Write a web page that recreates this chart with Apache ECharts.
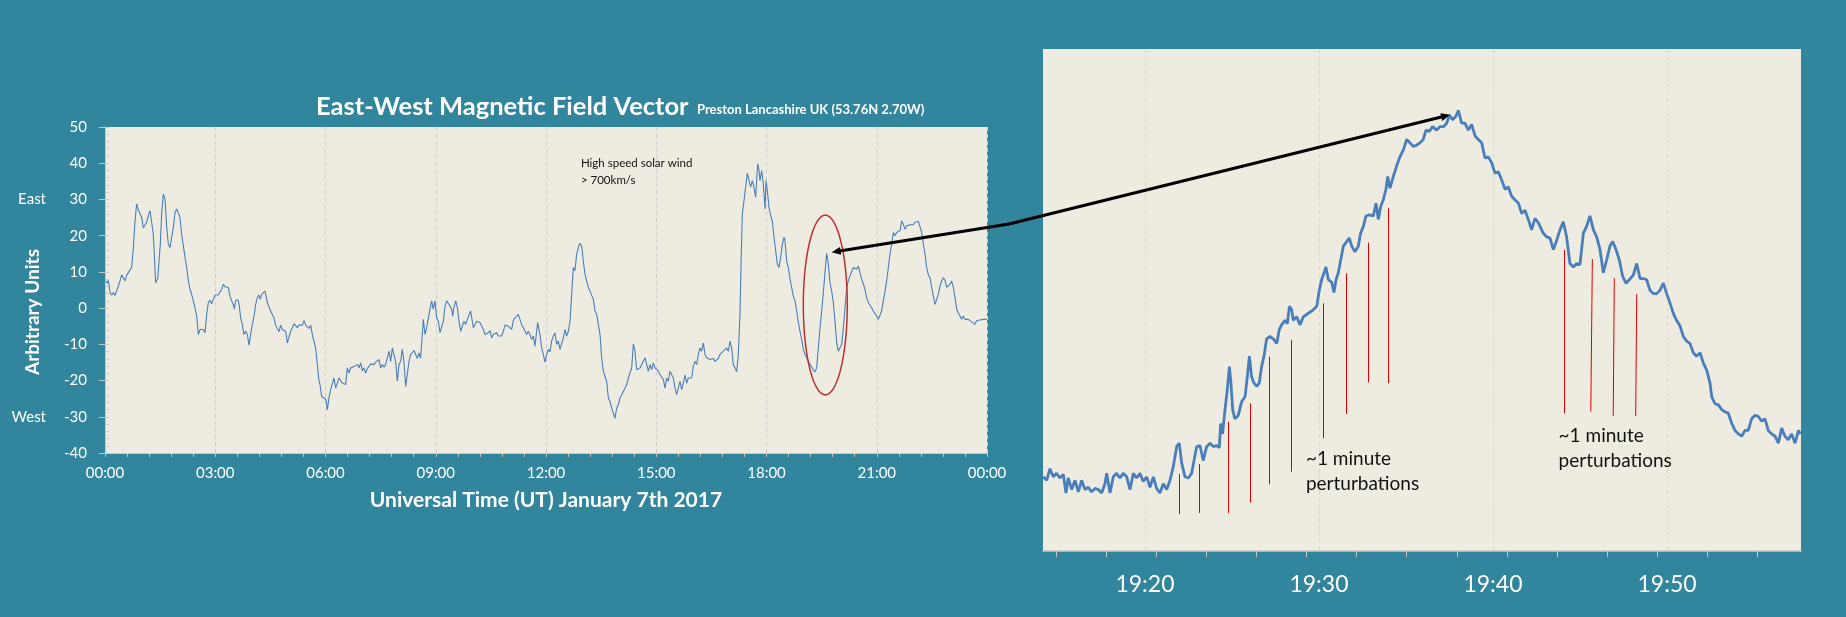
<!DOCTYPE html>
<html>
<head>
<meta charset="utf-8">
<script src="https://cdn.jsdelivr.net/npm/echarts@6/dist/echarts.min.js"></script>
<style>
html,body{margin:0;padding:0;background:#31859C;}
#chart{width:1846px;height:617px;}
</style>
</head>
<body>
<div id="chart"></div>
<script>
// ---------------- DATA ----------------
// Left chart: [minute of day (UT), East-West value (arbitrary units)]
const eastWest00to06 = [[1.1,7.5],[4.4,6.9],[5.4,7.7],[8.2,4.3],[10.9,3.6],[13.6,4.3],[16.3,3.5],[19.0,3.6],[21.8,6.1],[24.5,7.5],[27.2,9.2],[29.9,9.4],[32.7,7.5],[35.4,9.1],[38.1,9.4],[40.8,10.5],[43.5,11.2],[46.3,16.7],[49.0,24.1],[51.7,28.8],[54.4,27.1],[57.1,26.7],[59.9,25.1],[62.6,22.1],[65.3,22.5],[68.0,23.7],[70.7,25.5],[73.5,26.9],[76.2,27.4],[78.9,20.4],[80.5,14.9],[82.7,7.0],[86.0,8.0],[88.2,8.4],[90.3,17.7],[92.5,26.0],[95.2,31.5],[98.0,30.1],[100.7,22.3],[103.4,17.7],[106.1,16.7],[108.8,19.5],[111.6,22.3],[114.3,26.4],[117.0,27.4],[119.7,26.9],[122.4,25.1],[125.2,20.4],[127.9,17.2],[130.6,16.7],[133.3,11.2],[136.1,7.5],[138.8,5.2],[141.5,3.8],[144.2,2.0],[146.9,0.1],[149.7,-2.2],[152.4,-7.3],[155.1,-5.9],[157.8,-5.9],[160.5,-5.9],[163.3,-6.8],[166.0,-1.7],[168.7,1.5],[171.4,2.2],[174.1,1.2],[176.9,2.4],[179.6,3.6],[182.3,3.6],[185.0,3.6],[187.7,3.8],[190.5,5.2],[193.2,6.6],[195.9,5.9],[198.6,6.1],[201.4,5.7],[204.1,3.3],[206.8,2.0],[209.5,1.0],[211.1,-0.3],[213.3,2.0],[216.6,2.4],[218.8,1.2],[221.5,-2.7],[224.2,-4.5],[226.9,-7.3],[229.7,-6.4],[232.4,-7.3],[235.1,-10.2],[237.8,-7.3],[240.5,-4.5],[243.3,-2.2],[246.0,1.0],[248.7,2.9],[251.4,3.6],[253.6,2.4],[255.8,3.8],[258.5,3.3],[261.2,4.7],[263.4,4.9],[265.6,1.2],[267.7,1.0],[270.5,-0.8],[273.2,-1.0],[275.9,-2.7],[278.6,-4.7],[281.4,-4.5],[284.1,-6.5],[286.8,-4.7],[289.5,-5.9],[292.2,-5.6],[295.0,-6.4],[297.7,-9.6],[300.4,-9.1],[303.1,-6.4],[305.8,-5.4],[308.6,-4.3],[311.3,-4.5],[314.0,-5.4],[316.7,-4.7],[319.5,-4.3],[322.2,-4.7],[324.9,-3.4],[327.6,-4.7],[330.3,-4.5],[333.1,-5.6],[335.8,-4.7],[338.5,-7.3],[341.2,-9.1],[343.9,-11.0],[346.7,-15.6],[349.4,-20.2]];
const eastWest06to12 = [[351.0,-21.1],[353.7,-24.4],[357.5,-24.8],[360.8,-25.3],[363.0,-28.1],[365.7,-24.8],[368.4,-22.5],[371.1,-22.1],[373.9,-19.3],[376.6,-22.1],[379.3,-20.7],[382.0,-19.3],[384.7,-19.5],[387.5,-20.7],[390.2,-20.7],[392.9,-21.1],[395.6,-16.5],[398.3,-17.9],[401.1,-16.5],[403.8,-17.0],[406.5,-16.1],[409.2,-16.5],[412.0,-15.6],[414.7,-16.5],[417.4,-15.1],[420.1,-17.3],[422.8,-16.5],[425.6,-17.9],[428.3,-16.7],[431.0,-16.1],[433.7,-15.4],[436.4,-15.1],[439.2,-15.6],[441.9,-14.9],[444.6,-14.7],[447.3,-14.2],[450.0,-16.5],[452.8,-15.6],[455.5,-16.3],[458.2,-15.6],[460.9,-15.1],[463.7,-11.9],[466.4,-14.7],[469.1,-11.0],[471.8,-11.2],[474.5,-14.7],[477.3,-20.2],[480.0,-15.6],[482.7,-14.7],[485.4,-11.4],[488.1,-14.7],[490.9,-21.6],[493.6,-21.1],[496.3,-14.7],[499.0,-12.8],[501.7,-13.3],[504.5,-11.7],[507.2,-11.9],[509.9,-13.9],[512.6,-12.4],[515.3,-13.9],[518.1,-13.7],[519.7,-3.1],[522.4,-7.3],[525.1,-5.4],[527.9,-5.4],[530.6,-0.3],[533.3,2.0],[536.0,-0.3],[538.7,2.0],[541.5,-2.7],[544.2,-3.6],[546.9,-6.8],[549.6,-6.4],[552.4,-3.6],[555.1,0.6],[557.8,2.0],[560.5,2.0],[563.2,0.6],[566.0,-0.3],[567.6,-2.2],[569.8,0.3],[572.5,2.0],[575.2,0.3],[577.9,-3.6],[580.7,-6.4],[583.4,-6.2],[586.1,-3.6],[588.8,-4.5],[591.5,-3.1],[594.3,-3.6],[597.0,-0.8],[598.6,-0.3],[601.3,-5.4],[604.1,-4.5],[606.8,-3.6],[609.5,-3.6],[612.2,-4.0],[614.9,-4.5],[617.7,-5.9],[620.4,-7.3],[623.1,-7.3],[625.8,-6.8],[628.5,-6.2],[631.3,-8.2],[634.0,-7.3],[636.7,-7.3],[639.4,-6.8],[642.1,-7.7],[644.9,-7.3],[647.6,-7.7],[650.3,-6.4],[653.0,-4.7],[655.8,-4.5],[658.5,-5.0],[661.2,-4.5],[663.9,-5.9],[666.6,-3.4],[669.4,-2.7],[672.1,-2.2],[674.8,-1.7],[677.5,-3.1],[680.2,-4.5],[683.0,-5.4],[685.7,-5.9],[688.4,-7.3],[691.1,-6.4],[693.8,-7.3],[696.6,-8.7],[699.3,-7.7],[702.0,-10.5],[704.7,-6.4],[706.4,-4.0]];
const eastWest12to18 = [[710.2,-7.3],[712.9,-11.0],[715.6,-12.8],[718.4,-14.9],[721.1,-12.8],[723.8,-11.4],[726.5,-12.1],[729.2,-9.1],[732.0,-7.7],[734.7,-6.8],[737.4,-10.0],[740.1,-9.1],[742.9,-11.4],[745.6,-11.0],[748.3,-8.2],[751.0,-5.9],[753.7,-7.7],[756.5,-6.4],[759.2,-3.6],[761.9,3.8],[764.6,11.2],[767.3,10.3],[770.1,14.9],[772.8,16.7],[775.5,17.9],[778.2,17.2],[780.9,13.0],[783.7,9.4],[786.4,7.5],[789.1,5.7],[791.8,4.7],[794.6,4.3],[797.3,2.4],[800.0,-0.8],[802.7,-1.7],[805.4,-2.2],[808.2,-7.3],[810.9,-13.7],[813.6,-17.4],[816.3,-18.8],[819.0,-20.2],[821.8,-24.8],[824.5,-25.8],[827.2,-27.6],[829.9,-28.1],[832.6,-30.4],[835.4,-27.6],[838.1,-26.7],[840.8,-24.8],[843.5,-24.8],[846.3,-23.0],[849.0,-22.1],[851.7,-21.1],[854.4,-19.3],[857.1,-17.9],[859.9,-16.5],[862.6,-9.9],[865.3,-11.9],[868.0,-17.0],[870.7,-17.0],[873.5,-16.5],[876.2,-17.0],[878.9,-14.7],[881.6,-13.7],[884.3,-13.6],[887.1,-17.4],[889.8,-15.6],[892.5,-17.0],[895.2,-15.1],[898.0,-16.5],[900.7,-16.5],[903.4,-17.4],[906.1,-18.4],[908.8,-18.8],[911.6,-19.7],[914.3,-22.1],[917.0,-19.3],[919.7,-20.2],[922.4,-17.4],[925.2,-17.4],[927.9,-19.3],[930.6,-22.1],[933.3,-23.9],[936.0,-23.5],[938.8,-20.2],[941.5,-22.5],[944.2,-20.7],[946.9,-18.4],[949.7,-20.7],[952.4,-19.3],[955.1,-19.7],[957.8,-19.3],[960.5,-16.1],[963.3,-14.7],[966.0,-15.6],[968.7,-12.8],[971.4,-11.0],[974.1,-11.9],[976.9,-9.6],[979.6,-12.8],[982.3,-13.7],[985.0,-13.9],[987.7,-14.2],[990.5,-14.2],[993.2,-13.9],[995.9,-14.7],[998.6,-15.1],[1001.3,-13.9],[1004.1,-12.8],[1006.8,-13.3],[1009.5,-11.9],[1012.2,-12.4],[1015.0,-11.0],[1017.7,-11.9],[1020.4,-9.1],[1023.1,-11.0],[1025.8,-15.6],[1028.6,-16.5],[1031.3,-17.6],[1034.0,-12.8],[1036.7,-1.7],[1038.3,11.2],[1040.5,26.0],[1043.3,29.7],[1046.0,33.4],[1048.7,37.3],[1051.4,37.3],[1054.1,33.4],[1056.9,35.2],[1059.6,33.4],[1062.3,30.6],[1063.9,35.2],[1065.6,39.8],[1067.8,38.0]];
const eastWest18to24 = [[1069.4,35.2],[1072.1,38.0],[1074.8,34.3],[1077.6,27.4],[1079.2,35.2],[1081.4,32.4],[1084.1,27.8],[1086.8,25.5],[1089.5,24.1],[1092.3,19.5],[1095.0,15.8],[1097.7,12.1],[1100.4,11.2],[1103.1,14.0],[1105.9,17.7],[1108.6,19.5],[1110.2,18.6],[1112.9,13.0],[1115.7,11.2],[1118.4,8.0],[1121.1,7.5],[1123.8,3.3],[1126.5,2.0],[1129.3,-0.8],[1132.0,-4.0],[1134.7,-6.4],[1137.4,-8.7],[1140.1,-11.4],[1142.9,-12.8],[1145.6,-13.7],[1148.3,-14.7],[1151.0,-15.6],[1153.8,-16.1],[1156.5,-17.0],[1159.2,-17.6],[1161.9,-16.5],[1164.6,-11.0],[1167.4,-5.4],[1170.1,-0.8],[1172.8,4.3],[1175.5,9.8],[1178.2,15.1],[1181.0,12.1],[1183.7,7.0],[1186.4,4.7],[1189.1,1.5],[1191.8,-3.6],[1194.6,-9.6],[1197.3,-11.9],[1200.0,-12.4],[1202.7,-10.0],[1205.5,-5.4],[1208.2,0.1],[1210.9,5.7],[1213.6,7.5],[1216.3,8.9],[1219.1,9.4],[1221.8,11.2],[1224.5,11.2],[1227.2,10.7],[1229.9,11.6],[1232.7,11.2],[1235.4,8.0],[1238.1,6.6],[1240.8,5.2],[1243.5,2.9],[1246.3,1.5],[1249.0,1.5],[1251.7,0.1],[1254.4,-0.8],[1257.1,-1.3],[1259.9,-2.2],[1262.6,-3.1],[1265.3,-2.7],[1268.0,-0.8],[1270.8,2.0],[1273.5,4.7],[1276.2,7.5],[1278.9,11.2],[1281.6,14.9],[1284.4,17.7],[1287.1,20.9],[1289.8,20.0],[1292.5,20.9],[1295.2,20.4],[1298.0,21.4],[1300.7,24.1],[1303.4,23.2],[1306.1,21.8],[1308.8,22.7],[1311.6,22.7],[1314.3,23.0],[1317.0,23.2],[1319.7,23.0],[1322.5,23.7],[1325.2,23.2],[1327.9,23.9],[1330.6,22.5],[1333.3,20.9],[1336.1,17.7],[1338.8,14.9],[1341.5,11.2],[1344.2,9.2],[1346.9,8.4],[1349.7,5.7],[1352.4,3.3],[1355.1,1.0],[1357.8,2.4],[1360.5,3.8],[1363.3,6.1],[1366.0,7.5],[1368.7,8.4],[1371.4,7.7],[1374.2,5.7],[1376.9,6.1],[1379.6,6.6],[1382.3,7.5],[1385.0,5.7],[1387.8,2.9],[1390.5,-0.3],[1393.2,-1.3],[1395.9,-1.7],[1398.6,-3.1],[1401.4,-2.2],[1404.1,-3.1],[1406.8,-3.3],[1409.5,-3.1],[1412.2,-3.6],[1415.0,-3.8],[1417.7,-4.0],[1420.4,-4.5],[1423.1,-3.4],[1425.9,-3.8],[1428.6,-3.3],[1431.3,-3.6],[1434.0,-3.1],[1436.7,-3.3],[1439.5,-3.1]];

// Right (zoomed) chart: [minutes after 19:00 UT, value]
const zoomRise = [[14.16,-16.6],[14.35,-16.9],[14.54,-15.9],[14.73,-16.6],[14.92,-16.3],[15.11,-16.7],[15.31,-16.4],[15.46,-18.0],[15.59,-16.7],[15.79,-17.7],[15.98,-16.9],[16.17,-17.9],[16.36,-16.9],[16.55,-17.7],[16.74,-17.5],[16.93,-17.9],[17.13,-17.6],[17.32,-17.7],[17.51,-18.0],[17.70,-17.2],[17.80,-16.3],[17.99,-18.0],[18.18,-16.6],[18.37,-16.3],[18.56,-16.7],[18.75,-16.3],[18.95,-16.6],[19.14,-17.7],[19.33,-16.3],[19.52,-16.7],[19.71,-16.3],[19.90,-17.0],[20.10,-16.6],[20.29,-17.5],[20.48,-16.6],[20.67,-17.6],[20.86,-18.0],[21.05,-17.2],[21.25,-17.7],[21.44,-16.9],[21.63,-15.7],[21.82,-14.0],[21.97,-13.7],[22.11,-15.4],[22.30,-16.6],[22.49,-16.7],[22.68,-16.3],[22.82,-15.2],[22.97,-14.0],[23.16,-13.9],[23.35,-15.2],[23.54,-14.0],[23.74,-13.7],[23.93,-14.0],[24.12,-13.9],[24.27,-14.1],[24.35,-12.0],[24.46,-12.9],[24.60,-10.8],[24.73,-9.1],[24.85,-7.1],[24.94,-8.5],[25.04,-10.8],[25.17,-11.6],[25.36,-11.3],[25.56,-10.1],[25.75,-9.7],[25.88,-8.0],[26.00,-6.2],[26.13,-8.0],[26.26,-8.5],[26.42,-8.8],[26.57,-8.5],[26.70,-7.1],[26.84,-6.2],[26.99,-4.7],[27.18,-4.5],[27.38,-4.7],[27.57,-5.1],[27.72,-3.9],[27.85,-3.5],[28.05,-3.1],[28.18,-3.4],[28.30,-1.9],[28.43,-2.2]];
const zoomPeak = [[28.52,-3.1],[28.72,-2.8],[28.91,-3.5],[29.10,-2.8],[29.29,-2.6],[29.48,-2.4],[29.67,-2.2],[29.87,-1.9],[30.02,-0.5],[30.15,0.4],[30.29,1.0],[30.40,1.5],[30.54,0.4],[30.73,0.2],[30.86,-0.7],[30.98,0.4],[31.11,1.0],[31.25,2.1],[31.40,3.3],[31.55,3.6],[31.74,4.0],[31.88,3.3],[32.07,2.8],[32.26,3.3],[32.39,4.4],[32.55,5.0],[32.70,5.9],[32.89,6.0],[33.12,5.9],[33.28,7.0],[33.41,5.6],[33.54,6.7],[33.70,7.3],[33.85,8.2],[33.95,9.3],[34.08,8.3],[34.27,9.3],[34.46,10.2],[34.65,11.0],[34.85,11.6],[35.04,12.5],[35.23,12.2],[35.42,11.9],[35.61,12.0],[35.80,12.2],[35.99,12.5],[36.15,13.3],[36.34,13.2],[36.53,13.6],[36.76,13.3],[36.95,13.6],[37.15,13.6],[37.34,13.9],[37.49,14.6],[37.68,14.2],[37.87,14.5],[38.01,15.0],[38.20,13.9],[38.39,13.9],[38.58,13.3],[38.77,13.8],[38.97,12.8],[39.16,12.5],[39.35,12.2],[39.54,10.9],[39.73,11.0],[39.92,10.5],[40.11,9.6],[40.31,9.7],[40.50,9.0],[40.69,8.2],[40.88,8.4],[41.07,7.6],[41.26,7.3],[41.46,7.0],[41.65,6.1],[41.84,6.4],[42.03,5.6],[42.22,4.7],[42.41,5.7],[42.61,5.3]];
const zoomFall = [[42.89,4.4],[43.08,4.1],[43.27,4.0],[43.47,3.0],[43.66,3.8],[43.85,4.7],[44.04,5.4],[44.23,4.1],[44.42,1.8],[44.62,1.5],[44.81,1.8],[45.00,1.7],[45.19,4.4],[45.38,5.0],[45.57,5.9],[45.77,4.7],[45.96,4.1],[46.15,3.0],[46.34,1.0],[46.53,2.1],[46.72,3.3],[46.88,3.7],[47.07,3.0],[47.26,2.1],[47.45,0.7],[47.64,0.1],[47.83,0.4],[48.06,0.8],[48.26,1.8],[48.45,0.5],[48.64,0.5],[48.83,0.4],[49.02,-0.5],[49.21,-0.8],[49.41,-0.8],[49.60,-0.5],[49.79,0.1],[49.98,-0.8],[50.17,-1.6],[50.36,-2.5],[50.55,-3.1],[50.75,-3.6],[50.94,-4.5],[51.13,-4.9],[51.32,-5.1],[51.51,-5.9],[51.70,-6.2],[51.90,-5.9],[52.09,-6.8],[52.28,-7.4],[52.47,-8.5],[52.57,-9.7],[52.76,-10.3],[52.95,-10.4],[53.14,-10.8],[53.33,-11.0],[53.52,-11.1],[53.72,-12.0],[53.91,-12.6],[54.10,-12.9],[54.29,-13.1],[54.48,-12.6],[54.67,-12.6],[54.86,-11.6],[55.06,-11.3],[55.25,-11.4],[55.44,-11.8],[55.63,-11.6],[55.82,-12.6],[56.01,-12.9],[56.21,-13.1],[56.40,-13.7],[56.59,-12.4],[56.78,-13.1],[56.97,-13.4],[57.16,-12.9],[57.36,-13.7],[57.55,-12.6],[57.68,-12.9]];

// "~1 minute perturbation" markers: [tTop, vTop, tBottom, vBottom]
const perturbations = [[21.98,-16.36,21.98,-19.81],[23.14,-15.49,23.14,-19.72],[24.79,-11.84,24.79,-19.72],[26.07,-10.26,26.07,-18.83],[27.15,-6.24,27.15,-17.25],[28.40,-4.79,28.40,-16.16],[30.25,-1.63,30.25,-13.28],[31.59,0.96,31.59,-11.18],[32.83,3.60,32.83,-8.44],[33.98,6.57,33.98,-8.53],[44.10,2.97,44.10,-11.12],[45.71,2.17,45.62,-10.98],[46.97,0.53,46.91,-11.35],[48.26,-0.83,48.20,-11.35]];

// Axis tick values
const leftXTicksMin = 0, leftXTicksMax = 1440, leftXInterval = 180;
const leftYMin = -40, leftYMax = 50, leftYInterval = 10;
const directionLabels = {'30': 'East', '-30': 'West'};
const zoomHour = 19;
const zoomMin = 14.14, zoomMax = 57.70;
const zoomLabelValues = [20, 30, 40, 50];
const zoomTickValues = [14.88,17.76,20.64,23.52,26.40,29.28,32.16,35.04,37.92,40.80,43.68,46.56,49.44,52.32,55.20];
const zoomYMin = -23, zoomYMax = 20.3;

// ---------------- CHART ----------------
const FONT = 'Lato, "Open Sans", sans-serif';
const pad = n => String(n).padStart(2, '0');
const hhmm = v => { const m = Math.round(v); return pad(Math.floor(m / 60) % 24) + ':' + pad(m % 60); };
const AX = '#C8C8C8';

const chart = echarts.init(document.getElementById('chart'), null, {renderer: 'canvas'});

const option = {
  animation: false,
  backgroundColor: '#31859C',
  textStyle: {fontFamily: FONT},
  grid: [
    {left: 105, top: 127, width: 882, height: 326, show: true, backgroundColor: '#EEECE1', borderWidth: 0, containLabel: false},
    {left: 1043, top: 49, width: 758, height: 502, show: true, backgroundColor: '#EEECE1', borderWidth: 0, containLabel: false}
  ],
  xAxis: [
    {
      gridIndex: 0, type: 'value', position: 'bottom',
      min: leftXTicksMin, max: leftXTicksMax, interval: leftXInterval,
      axisLine: {show: true, onZero: false, lineStyle: {color: AX, width: 1}},
      axisTick: {show: true, length: 4, lineStyle: {color: AX}},
      minorTick: {show: true, splitNumber: 5, length: 4, lineStyle: {color: AX}},
      axisLabel: {color: '#FFFFFF', fontSize: 15, margin: 13, fontFamily: FONT, formatter: hhmm},
      splitLine: {show: true, lineStyle: {color: '#CFCFCF', type: [4, 3], width: 1}},
      name: 'Universal Time (UT) January 7th 2017', nameLocation: 'middle', nameGap: 37,
      nameTextStyle: {color: '#FFFFFF', fontSize: 21, fontWeight: 'bold', fontFamily: FONT}
    },
    {
      gridIndex: 1, type: 'value', position: 'bottom',
      min: zoomMin, max: zoomMax,
      axisLine: {show: true, onZero: false, lineStyle: {color: AX, width: 1.5}},
      axisTick: {show: false, customValues: zoomLabelValues},
      axisLabel: {show: true, customValues: zoomLabelValues, color: '#FFFFFF', fontSize: 23, margin: 22, fontFamily: FONT,
        formatter: v => zoomHour + ':' + pad(Math.round(v))},
      splitLine: {show: true, lineStyle: {color: '#D6D6D6', type: [4, 3], width: 1}}
    },
    {
      gridIndex: 1, type: 'value', position: 'bottom',
      min: zoomMin, max: zoomMax,
      axisLine: {show: false, onZero: false},
      axisTick: {show: true, length: 6, customValues: zoomTickValues, lineStyle: {color: AX, width: 1}},
      axisLabel: {show: false},
      splitLine: {show: false}
    }
  ],
  yAxis: [
    {
      gridIndex: 0, type: 'value', position: 'left',
      min: leftYMin, max: leftYMax, interval: leftYInterval,
      axisLine: {show: true, onZero: false, lineStyle: {color: AX, width: 1}},
      axisTick: {show: true, length: 6, lineStyle: {color: AX}},
      axisLabel: {color: '#FFFFFF', fontSize: 15, margin: 18, fontFamily: FONT},
      splitLine: {show: false}
    },
    {
      gridIndex: 0, type: 'value', position: 'left',
      min: leftYMin, max: leftYMax, interval: 2,
      axisLine: {show: false, onZero: false},
      axisTick: {show: true, inside: true, length: 4, lineStyle: {color: AX}},
      axisLabel: {color: '#FFFFFF', fontSize: 15, margin: 59, fontFamily: FONT,
        formatter: v => directionLabels[String(v)] || ''},
      splitLine: {show: false}
    },
    {
      gridIndex: 1, type: 'value', min: zoomYMin, max: zoomYMax, show: false,
      axisLine: {onZero: false},
      splitLine: {show: false}
    }
  ],
  series: [
    {
      type: 'line', xAxisIndex: 0, yAxisIndex: 0,
      data: eastWest00to06.concat(eastWest06to12, eastWest12to18, eastWest18to24),
      showSymbol: false, symbol: 'none',
      lineStyle: {color: '#4A7EBB', width: 1.1},
      silent: true
    },
    {
      type: 'line', xAxisIndex: 1, yAxisIndex: 2,
      data: zoomRise.concat(zoomPeak, zoomFall),
      showSymbol: false, symbol: 'none',
      lineStyle: {color: '#4A7EBB', width: 2.8},
      silent: true,
      markLine: {
        silent: true, symbol: ['none', 'none'], animation: false,
        label: {show: false},
        lineStyle: {color: '#E00000', width: 1, type: 'solid'},
        emphasis: {disabled: true},
        data: perturbations.map(p => [{coord: [p[0], p[1]]}, {coord: [p[2], p[3]]}])
      }
    }
  ]
};
chart.setOption(option);

// ---------------- ANNOTATIONS ----------------
const L = pt => chart.convertToPixel({xAxisIndex: 0, yAxisIndex: 0}, pt);
const R = pt => chart.convertToPixel({xAxisIndex: 1, yAxisIndex: 2}, pt);

const ellipseSpec = {center: [1176, 0.86], rx: 35.9, ry: 24.8};
const leftArrowTip = [1186.4, 15.4];
const rightArrowTip = [37.53, 14.62];
const junction = [1009, 224];
const solarNoteAnchor = [777, 42.4];
const pertNote1Anchor = [29.25, -13.94];
const pertNote2Anchor = [43.77, -11.96];

function arrowHead(tip, from, len, half) {
  const dx = tip[0] - from[0], dy = tip[1] - from[1];
  const d = Math.hypot(dx, dy), ux = dx / d, uy = dy / d;
  const bx = tip[0] - ux * len, by = tip[1] - uy * len;
  return {
    poly: [[tip[0], tip[1]], [bx - uy * half, by + ux * half], [bx + uy * half, by - ux * half]],
    base: [bx + ux * 1, by + uy * 1]
  };
}

const c = L(ellipseSpec.center);
const ex = L([ellipseSpec.center[0] + ellipseSpec.rx, ellipseSpec.center[1]]);
const ey = L([ellipseSpec.center[0], ellipseSpec.center[1] + ellipseSpec.ry]);
const rxp = Math.abs(ex[0] - c[0]), ryp = Math.abs(c[1] - ey[1]);
const ellipsePts = [];
for (let i = 0; i < 120; i++) {
  const a = i / 120 * Math.PI * 2;
  ellipsePts.push([c[0] + rxp * Math.cos(a), c[1] + ryp * Math.sin(a)]);
}

const lt = L(leftArrowTip), rt = R(rightArrowTip);
const lh = arrowHead(lt, junction, 9, 4);
const rh = arrowHead(rt, junction, 9, 4);
const sn = L(solarNoteAnchor), p1 = R(pertNote1Anchor), p2 = R(pertNote2Anchor);

chart.setOption({
  graphic: [
    {type: 'text', x: 316, y: 107, z: 50, style: {text: 'East-West Magnetic Field Vector', fill: '#FFFFFF', fontFamily: FONT, fontWeight: 'bold', fontSize: 25.5, align: 'left', verticalAlign: 'middle'}},
    {type: 'text', x: 697, y: 110, z: 50, style: {text: 'Preston Lancashire UK (53.76N 2.70W)', fill: '#FFFFFF', fontFamily: FONT, fontWeight: 'bold', fontSize: 13, align: 'left', verticalAlign: 'middle'}},
    {type: 'text', x: 33, y: 312, rotation: Math.PI / 2, z: 50, style: {text: 'Arbitrary Units', fill: '#FFFFFF', fontFamily: FONT, fontWeight: 'bold', fontSize: 19, align: 'center', verticalAlign: 'middle'}},
    {type: 'text', x: sn[0], y: sn[1], z: 50, style: {text: 'High speed solar wind\n> 700km/s', fill: '#111111', fontFamily: FONT, fontSize: 11.5, lineHeight: 17, align: 'left', verticalAlign: 'top'}},
    {type: 'text', x: p1[0], y: p1[1], z: 50, style: {text: '~1 minute\nperturbations', fill: '#111111', fontFamily: FONT, fontSize: 19, lineHeight: 25, align: 'left', verticalAlign: 'top'}},
    {type: 'text', x: p2[0], y: p2[1], z: 50, style: {text: '~1 minute\nperturbations', fill: '#111111', fontFamily: FONT, fontSize: 19, lineHeight: 25, align: 'left', verticalAlign: 'top'}},
    {type: 'polygon', z: 60, shape: {points: ellipsePts}, style: {fill: 'none', stroke: '#B8312F', lineWidth: 1.5}},
    {type: 'line', z: 70, shape: {x1: junction[0], y1: junction[1], x2: lh.base[0], y2: lh.base[1]}, style: {stroke: '#000000', lineWidth: 3}},
    {type: 'polygon', z: 70, shape: {points: lh.poly}, style: {fill: '#000000'}},
    {type: 'line', z: 70, shape: {x1: junction[0], y1: junction[1], x2: rh.base[0], y2: rh.base[1]}, style: {stroke: '#000000', lineWidth: 3}},
    {type: 'polygon', z: 70, shape: {points: rh.poly}, style: {fill: '#000000'}}
  ]
});
</script>
</body>
</html>
